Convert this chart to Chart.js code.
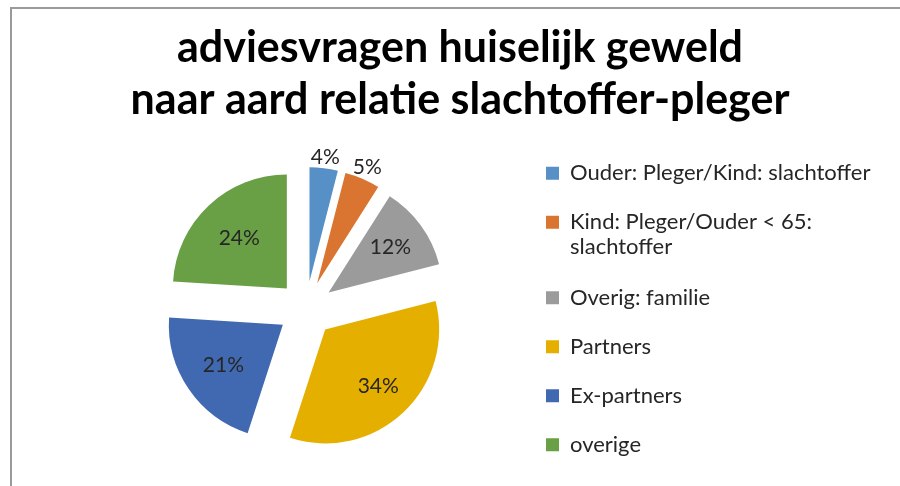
<!DOCTYPE html>
<html>
<head>
<meta charset="utf-8">
<script src="https://cdn.jsdelivr.net/npm/chart.js@4.4.1/dist/chart.umd.min.js"></script>
<style>
    html, body { margin: 0; padding: 0; background: #fff; overflow: hidden; }
    #frame {
        position: absolute; left: 10px; top: 7px; width: 900px; height: 490px;
        border-left: 2px solid #9a9a9a; border-top: 2px solid #9a9a9a;
    }
    canvas { position: absolute; left: 0; top: 0; }
</style>
</head>
<body>
<div id="frame"></div>
<canvas id="pieChart" width="900" height="486"></canvas>
<script>
// ====== DATA ======
const titleLines = ['adviesvragen huiselijk geweld', 'naar aard relatie slachtoffer-pleger']
const categories = [
    'Ouder: Pleger/Kind: slachtoffer',
    ['Kind: Pleger/Ouder < 65:', 'slachtoffer'],
    'Overig: familie',
    'Partners',
    'Ex-partners',
    'overige',
]
const percentages = [4, 5, 12, 34, 21, 24]

// ====== STYLE ======
const sliceColors = ['#5690C6', '#D97531', '#9B9B9B', '#E5AF00', '#4169B1', '#69A045']
const labelDistance = [1.1, 1.11, 0.67, 0.68, 0.63, 0.61] // fraction of radius
const pieRadius = 114
const explodePx = 28
const legendPad = 27
const legendFontSize = 22
const textColor = '#262626'

// legend width so the pie lands at x = 306
const mctx = document.createElement('canvas').getContext('2d')
mctx.font = `normal ${legendFontSize}px Lato`
const widest = Math.max(...categories.flat().map((t) => mctx.measureText(t).width))
const legendWidth = legendPad + 13 + legendFontSize / 2 + widest + 10
const legendLeft = 546 - legendPad
const padLeft = 2 * 306 - legendLeft
const padRight = Math.max(0, 900 - legendLeft - legendWidth)

// pull every slice out from the centre along its middle angle
const explodePlugin = {
    id: 'explode',
    beforeDatasetsDraw(chart) {
        const { left, right, top, bottom } = chart.chartArea
        const cx = (left + right) / 2
        const cy = (top + bottom) / 2
        chart.getDatasetMeta(0).data.forEach((arc) => {
            const mid = (arc.startAngle + arc.endAngle) / 2
            arc.x = cx + Math.cos(mid) * explodePx
            arc.y = cy + Math.sin(mid) * explodePx
        })
    },
}

// percentage labels on slices
const labelPlugin = {
    id: 'sliceLabels',
    afterDatasetsDraw(chart) {
        const { ctx } = chart
        ctx.save()
        ctx.font = '21px Lato'
        ctx.fillStyle = textColor
        ctx.textAlign = 'center'
        ctx.textBaseline = 'middle'
        chart.getDatasetMeta(0).data.forEach((arc, i) => {
            const mid = (arc.startAngle + arc.endAngle) / 2
            const dist = labelDistance[i] * arc.outerRadius
            ctx.fillText(
                percentages[i] + '%',
                arc.x + Math.cos(mid) * dist,
                arc.y + Math.sin(mid) * dist,
            )
        })
        ctx.restore()
    },
}

// title centred over the whole frame, not just the padded area
const titlePlugin = {
    id: 'titleCenter',
    afterLayout(chart) {
        chart.titleBlock.left = 20
        chart.titleBlock.right = chart.width
    },
}

new Chart(document.getElementById('pieChart'), {
    type: 'pie',
    data: {
        labels: categories,
        datasets: [
            {
                data: percentages,
                backgroundColor: sliceColors,
                borderWidth: 0,
                radius: pieRadius,
            },
        ],
    },
    options: {
        responsive: false,
        animation: false,
        layout: { padding: { left: padLeft, right: padRight, top: 0, bottom: 0 } },
        plugins: {
            title: {
                display: true,
                text: titleLines,
                color: '#000',
                font: { family: 'Lato', size: 43, weight: 'bold', lineHeight: 1.21 },
                padding: { top: 22, bottom: 6 },
            },
            legend: {
                position: 'right',
                fullSize: false,
                labels: {
                    color: textColor,
                    font: { family: 'Lato', size: legendFontSize, lineHeight: 1.1 },
                    boxWidth: 13,
                    boxHeight: 13,
                    padding: legendPad,
                },
            },
            tooltip: { enabled: false },
        },
    },
    plugins: [explodePlugin, labelPlugin, titlePlugin],
})
</script>
</body>
</html>
